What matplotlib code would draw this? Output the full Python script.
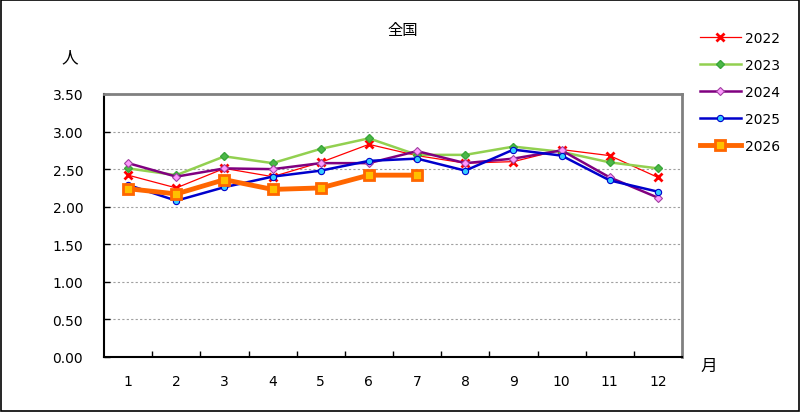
import matplotlib
matplotlib.use('Agg')
import matplotlib.pyplot as plt
from matplotlib.patches import Rectangle

plt.rcParams['font.family'] = ['Noto Sans CJK JP', 'DejaVu Sans']

## Data
months = [1, 2, 3, 4, 5, 6, 7, 8, 9, 10, 11, 12]
month_labels = ['1', '2', '3', '4', '5', '6', '7', '8', '9', '10', '11', '12']
y2022 = [2.42, 2.25, 2.51, 2.40, 2.59, 2.83, 2.68, 2.58, 2.60, 2.76, 2.68, 2.39]
y2023 = [2.51, 2.42, 2.67, 2.58, 2.77, 2.91, 2.69, 2.69, 2.80, 2.73, 2.59, 2.51]
y2024 = [2.58, 2.40, 2.51, 2.50, 2.58, 2.58, 2.74, 2.58, 2.64, 2.75, 2.39, 2.12]
y2025 = [2.29, 2.08, 2.26, 2.40, 2.48, 2.61, 2.64, 2.48, 2.76, 2.68, 2.35, 2.20]
y2026 = [2.24, 2.17, 2.36, 2.23, 2.25, 2.42, 2.42]
y_ticks = [0, 0.5, 1.0, 1.5, 2.0, 2.5, 3.0, 3.5]

fig = plt.figure(figsize=(8.01, 4.14), dpi=100)
ax = fig.add_axes([104 / 801, 56 / 414, 578 / 801, 263 / 414])

## Outer frame
fig.patches.append(Rectangle((0.001, 0.006), 0.997, 0.992, transform=fig.transFigure,
                             fill=False, edgecolor='black', linewidth=1.2))

## Lines
ax.plot(months, y2022, color='#ff0000', linewidth=0.9, marker='x', markersize=5.5,
        markeredgewidth=2, markeredgecolor='#ff0000', label='2022', zorder=3)
ax.plot(months, y2023, color='#92d050', linewidth=1.8, marker='D', markersize=4,
        markerfacecolor='#4cb848', markeredgecolor='#3aa63a', label='2023', zorder=3)
ax.plot(months, y2024, color='#800080', linewidth=1.8, marker='D', markersize=4.2,
        markerfacecolor='#ff99ff', markeredgecolor='#a040a0', markeredgewidth=0.8,
        label='2024', zorder=3)
ax.plot(months, y2025, color='#0000cc', linewidth=1.8, marker='o', markersize=4.5,
        markerfacecolor='#33ccff', markeredgecolor='#0000cc', markeredgewidth=0.8,
        label='2025', zorder=3)
ax.plot(months[:len(y2026)], y2026, color='#ff6600', linewidth=3.5, marker='s',
        markersize=7, markerfacecolor='#ffc000', markeredgecolor='#ff6600',
        markeredgewidth=2, label='2026', zorder=4)

## Axes
ax.set_xlim(0.5, 12.5)
ax.set_ylim(0, 3.5)
ax.set_yticks(y_ticks)
ax.set_yticklabels(['%.2f' % v for v in y_ticks], fontsize=10, family='DejaVu Sans')
ax.set_xticks(months)
ax.set_xticklabels(month_labels, fontsize=10, family='DejaVu Sans')
ax.set_xticks([m + 0.5 for m in months[:-1]], minor=True)
ax.tick_params(axis='x', which='major', length=0, pad=12)
ax.tick_params(axis='x', which='minor', direction='in', length=4, width=1)
ax.tick_params(axis='y', direction='in', length=4, width=1, pad=15)

## Grid(dashed)
for v in y_ticks[1:-1]:
    ax.axhline(v, color='#a0a0a0', linewidth=0.8, linestyle=(0, (2, 2)), zorder=1)

ax.spines['left'].set_linewidth(1.5)
ax.spines['bottom'].set_linewidth(1.5)
ax.spines['top'].set_color('#808080')
ax.spines['top'].set_linewidth(2)
ax.spines['right'].set_color('#808080')
ax.spines['right'].set_linewidth(2)

## Texts
fig.text(403 / 801, 1 - 31 / 414, '全国', fontsize=11, ha='center', va='center')
fig.text(70 / 801, 1 - 58 / 414, '人', fontsize=12, ha='center', va='center')
fig.text(709 / 801, 1 - 366 / 414, '月', fontsize=12, ha='center', va='center')

## Legend
leg = fig.legend(loc='upper left', bbox_to_anchor=(687 / 801, 1 - 19 / 414), frameon=False,
                 handlelength=3.0, handletextpad=0.3, labelspacing=0.95,
                 prop={'family': 'DejaVu Sans', 'size': 10})

fig.savefig('out.png', dpi=100)
